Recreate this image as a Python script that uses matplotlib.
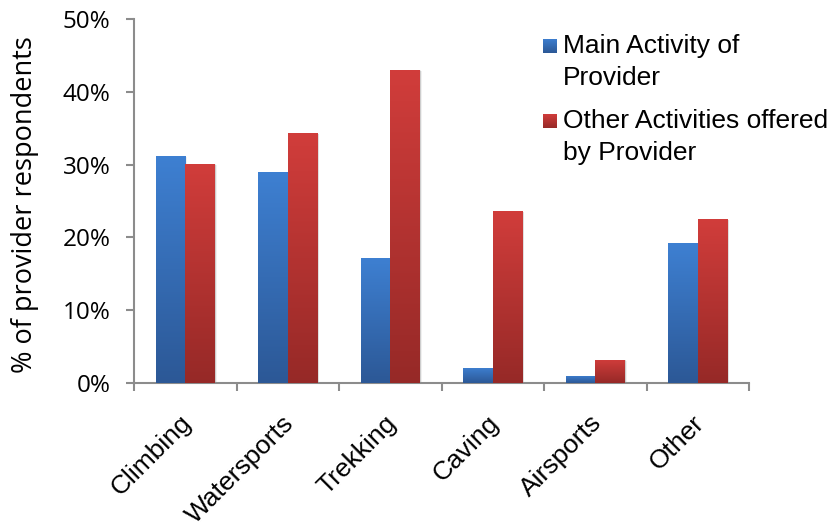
import numpy as np
import matplotlib
matplotlib.use("Agg")
import matplotlib.pyplot as plt
from matplotlib.colors import LinearSegmentedColormap
from matplotlib.patches import Rectangle
from matplotlib.ticker import FixedLocator, FuncFormatter
from matplotlib.transforms import ScaledTranslation

categories = ["Climbing", "Watersports", "Trekking", "Caving", "Airsports", "Other"]
main_activity = [31.2, 29.0, 17.2, 2.1, 1.0, 19.2]
other_activities = [30.1, 34.3, 43.0, 23.6, 3.2, 22.5]
series_names = ["Main Activity of\nProvider", "Other Activities offered\nby Provider"]
y_ticks = [0, 10, 20, 30, 40, 50]

blue_top, blue_bottom = "#3E80D2", "#2C5896"
red_top, red_bottom = "#D13D3B", "#962927"

W, H = 836, 529
fig = plt.figure(figsize=(W / 100, H / 100), dpi=100)
ax = fig.add_axes([134 / W, 1 - 383 / H, (749 - 134) / W, (383 - 19) / H])

n = len(categories)
x = np.arange(n)
width = 0.29
grad = np.linspace(0, 1, 256).reshape(-1, 1)


def gradient_bars(xpos, values, c_bottom, c_top):
    cmap = LinearSegmentedColormap.from_list("g", [c_bottom, c_top])
    bars = ax.bar(xpos, values, width, color="none", linewidth=0, zorder=3)
    for rect in bars:
        x0, y0 = rect.get_x(), rect.get_y()
        w, h = rect.get_width(), rect.get_height()
        # soft drop shadow
        for k, a in [(0.018, 0.06), (0.012, 0.07), (0.006, 0.08)]:
            ax.add_patch(Rectangle((x0 + k, y0), w, max(h - k * 8, 0), facecolor="#000000",
                                   alpha=a, linewidth=0, zorder=2))
        im = ax.imshow(grad, extent=[x0, x0 + w, y0, y0 + h], origin="lower",
                       aspect="auto", cmap=cmap, zorder=3, interpolation="bilinear")
        im.set_clip_path(rect)
    return cmap


cmap_main = gradient_bars(x - width / 2, main_activity, blue_bottom, blue_top)
cmap_other = gradient_bars(x + width / 2, other_activities, red_bottom, red_top)

ax.set_xlim(-0.5, n - 0.5)
ax.set_ylim(0, 50)

for side in ["top", "right"]:
    ax.spines[side].set_visible(False)
for side in ["left", "bottom"]:
    ax.spines[side].set_color("#8C8C8C")
    ax.spines[side].set_linewidth(1.5)

# category boundary ticks on x, labels at category centres
ax.xaxis.set_major_locator(FixedLocator(np.arange(-0.5, n, 1.0)))
ax.xaxis.set_major_formatter(FuncFormatter(lambda v, p: ""))
ax.xaxis.set_minor_locator(FixedLocator(x))
ax.set_xticklabels(categories, minor=True, rotation=45, ha="right", va="top",
                   rotation_mode="anchor", fontsize=19, family="Liberation Sans")
ax.tick_params(axis="x", which="major", direction="out", length=6, width=1.5,
               color="#8C8C8C")
ax.tick_params(axis="x", which="minor", length=0, pad=20)
shift = ScaledTranslation(-6 / 100, 0, fig.dpi_scale_trans)
for lbl in ax.get_xticklabels(minor=True):
    lbl.set_transform(lbl.get_transform() + shift)

ax.set_yticks(y_ticks)
ax.set_yticklabels([f"{v}%" for v in y_ticks], fontsize=17.5, family="Open Sans")
ax.tick_params(axis="y", direction="out", length=6, width=1.5, color="#8C8C8C",
               pad=11)

fig.text(25 / W, 1 - 205 / H, "% of provider respondents", rotation=90,
         ha="center", va="center", fontsize=19.5, family="Open Sans")

# legend: gradient swatch aligned with the first line of each label
swatch_top = [39, 114]
line_gap = 32
for name, cmap, top in zip(series_names, [cmap_main, cmap_other], swatch_top):
    sax = fig.add_axes([543 / W, 1 - (top + 14) / H, 14 / W, 14 / H])
    sax.imshow(grad, origin="lower", aspect="auto", cmap=cmap)
    sax.set_axis_off()
    for i, line in enumerate(name.split("\n")):
        fig.text(563 / W, 1 - (top + 14 + i * line_gap) / H, line, ha="left",
                 va="baseline", fontsize=19, family="Liberation Sans")

fig.savefig("out.png", dpi=100)
